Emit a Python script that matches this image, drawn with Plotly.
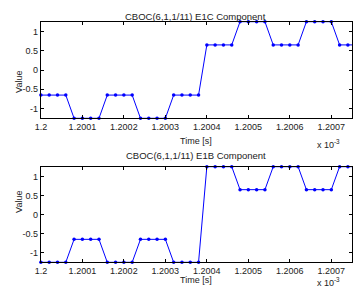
import plotly.graph_objects as go

# time in units of 1e-3 s, sample index k -> 1.2 + 0.00002*k
sample_idx = list(range(39))
t0 = 1.2
dt = 0.00002
time_ms = [t0 + dt * k for k in sample_idx]

A = 0.652   # alpha - beta
B = 1.255   # alpha + beta
e1c_levels = [-A, -B, -A, -B, -A, A, B, A, B, A]
e1b_levels = [-B, -A, -B, -A, -B, B, A, B, A, B]
e1c = [e1c_levels[min(k // 4, 9)] for k in sample_idx]
e1b = [e1b_levels[min(k // 4, 9)] for k in sample_idx]

xtick_vals = [1.2, 1.2001, 1.2002, 1.2003, 1.2004, 1.2005, 1.2006, 1.2007]
xtick_text = ["1.2", "1.2001", "1.2002", "1.2003", "1.2004", "1.2005", "1.2006", "1.2007"]
ytick_vals = [-1, -0.5, 0, 0.5, 1]
ytick_text = ["-1", "-0.5", "0", "0.5", "1"]
titles = ["CBOC(6,1,1/11) E1C Component", "CBOC(6,1,1/11) E1B Component"]

W, H = 355, 296
xl, xr = 35.5 / W, 352 / W
dom_top = [1 - 118.3 / H, 1 - 21.7 / H]
dom_bot = [1 - 262.3 / H, 1 - 166.7 / H]

fig = go.Figure()
line_style = dict(color="#0000ff", width=1)
marker_style = dict(color="#0000ff", size=3.5)
xmax = 1.20075
for series, xa, ya in [(e1c, "x", "y"), (e1b, "x2", "y2")]:
    # line through all samples (last one lies just past the right limit, clipped)
    fig.add_trace(go.Scatter(x=time_ms, y=series, mode="lines", line=line_style,
                             xaxis=xa, yaxis=ya, showlegend=False))
    # markers only for samples inside the range, not clipped at the border
    mx = [t for t in time_ms if t <= xmax]
    my = [v for t, v in zip(time_ms, series) if t <= xmax]
    fig.add_trace(go.Scatter(x=mx, y=my, mode="markers", marker=marker_style,
                             xaxis=xa, yaxis=ya, showlegend=False, cliponaxis=False))

font = dict(family="Liberation Sans, Arial, sans-serif", size=9, color="#222")
tfont = dict(family="Liberation Sans, Arial, sans-serif", size=9.5, color="#222")
xcommon = dict(range=[1.2, xmax], tickvals=xtick_vals, ticktext=xtick_text,
               ticks="inside", ticklen=3, tickcolor="#000", showline=True,
               linecolor="#000", linewidth=1, mirror="ticks", showgrid=False,
               zeroline=False, tickfont=font, domain=[xl, xr])
ycommon = dict(range=[-1.255, 1.255], tickvals=ytick_vals, ticktext=ytick_text,
               ticks="inside", ticklen=3, tickcolor="#000", showline=True,
               linecolor="#000", linewidth=1, mirror="ticks", showgrid=False,
               zeroline=False, tickfont=font)

fig.update_layout(
    width=W, height=H, margin=dict(l=0, r=0, t=0, b=0),
    paper_bgcolor="white", plot_bgcolor="white",
    xaxis=dict(**xcommon, anchor="y"),
    yaxis=dict(**ycommon, domain=dom_top, anchor="x"),
    xaxis2=dict(**xcommon, anchor="y2"),
    yaxis2=dict(**ycommon, domain=dom_bot, anchor="x2"),
)

def ann(text, x, y, f=font, **kw):
    d = dict(text=text, x=x / W, y=1 - y / H, xref="paper", yref="paper",
             showarrow=False, font=f, borderpad=0)
    d.update(kw)
    fig.add_annotation(**d)

ann(titles[0], 193, 10, tfont)
ann(titles[1], 193, 155.5, tfont)
ann("Time [s]", 193, 140.5)
ann("Time [s]", 193, 285.5)
ann("x 10<sup>-3</sup>", 341, 144)
ann("x 10<sup>-3</sup>", 341, 289)
ann("Value", 7, 70, textangle=-90)
ann("Value", 7, 214, textangle=-90)

fig.write_html("out.html")
